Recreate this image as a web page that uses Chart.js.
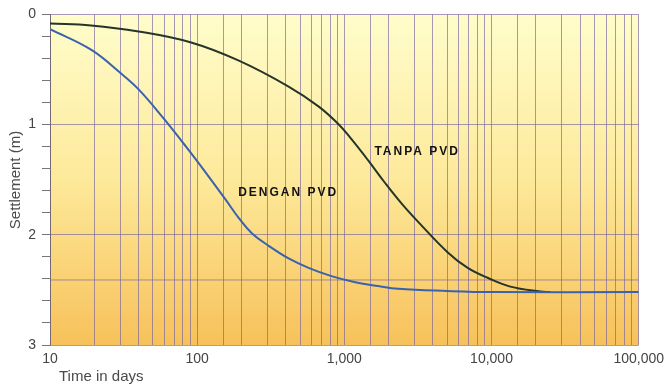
<!DOCTYPE html>
<html>
<head>
<meta charset="utf-8">
<script src="https://cdn.jsdelivr.net/npm/chart.js@4"></script>
<style>
    body { margin: 0; background: #fff; }
</style>
</head>
<body>
<canvas id="myChart" width="670" height="387"></canvas>
<script>
// data (time in days, settlement in m)
const tanpaDays = [10, 19, 40, 91, 192, 418, 667, 910, 1114, 1452, 1892, 2427, 3162, 5045, 6890, 9400, 13430, 21400, 25000];
const tanpaSettle = [0.083, 0.10, 0.155, 0.255, 0.42, 0.655, 0.835, 0.995, 1.13, 1.325, 1.53, 1.71, 1.88, 2.16, 2.30, 2.39, 2.47, 2.515, 2.52];

const denganDays = [10, 19, 30, 40, 58, 84, 115, 157, 192, 235, 306, 418, 571, 817, 1186, 1698, 2320, 5000, 10000, 100000];
const denganSettle = [0.134, 0.32, 0.53, 0.68, 0.93, 1.20, 1.44, 1.686, 1.849, 1.985, 2.10, 2.215, 2.30, 2.375, 2.43, 2.465, 2.49, 2.51, 2.52, 2.52];

// extra horizontal reference line
const refLine = 2.41;

// curve labels, placed in data coordinates
const labelText = ['TANPA PVD', 'DENGAN PVD'];
const labelDays = [1600, 190];
const labelSettle = [1.25, 1.62];

const xTicks = [10, 100, 1000, 10000, 100000];
const gridCol = 'rgba(118,100,160,0.65)';

function toPoints(xs, ys) {
    var pts = [];
    for (var i = 0; i < xs.length; i++) {
        pts.push({ x: xs[i], y: ys[i] });
    }
    return pts;
}

const bgPlugin = {
    id: 'bg',
    beforeDraw(chart) {
        var ctx = chart.ctx;
        var a = chart.chartArea;
        var g = ctx.createLinearGradient(0, a.top, 0, a.bottom);
        g.addColorStop(0, '#fffdcc');
        g.addColorStop(0.5, '#fde99a');
        g.addColorStop(1, '#f7c15a');
        ctx.save();
        ctx.fillStyle = g;
        ctx.fillRect(a.left, a.top, a.right - a.left, a.bottom - a.top);
        ctx.restore();
    }
};

const textPlugin = {
    id: 'texts',
    afterDatasetsDraw(chart) {
        var ctx = chart.ctx;
        var xs = chart.scales.x;
        var ys = chart.scales.y;
        ctx.save();
        ctx.fillStyle = '#111';
        ctx.font = 'bold 12px "Liberation Sans", Arial, sans-serif';
        ctx.letterSpacing = '2px';
        ctx.textBaseline = 'middle';
        ctx.textAlign = 'left';
        for (var i = 0; i < labelText.length; i++) {
            ctx.fillText(labelText[i], xs.getPixelForValue(labelDays[i]), ys.getPixelForValue(labelSettle[i]));
        }
        ctx.letterSpacing = '0px';
        // axis titles
        ctx.fillStyle = '#4a4a4a';
        ctx.font = '15px "Liberation Sans", Arial, sans-serif';
        ctx.textBaseline = 'alphabetic';
        ctx.fillText('Time in days', 59, 381);
        ctx.translate(20, 180);
        ctx.rotate(-Math.PI / 2);
        ctx.textAlign = 'center';
        ctx.fillText('Settlement (m)', 0, 0);
        ctx.restore();
    }
};

const data = {
    datasets: [{
        label: 'DENGAN PVD',
        data: toPoints(denganDays, denganSettle),
        borderColor: '#3a62ad',
        borderWidth: 2,
        pointRadius: 0,
        tension: 0.4
    }, {
        label: 'TANPA PVD',
        data: toPoints(tanpaDays, tanpaSettle),
        borderColor: '#253529',
        borderWidth: 2,
        pointRadius: 0,
        tension: 0.4
    }, {
        label: 'ref',
        data: [{ x: 10, y: refLine }, { x: 100000, y: refLine }],
        borderColor: gridCol,
        borderWidth: 1,
        pointRadius: 0
    }]
};

const config = {
    type: 'line',
    data,
    options: {
        responsive: false,
        animation: false,
        layout: { padding: { top: 13, right: 27, left: 0, bottom: 0 } },
        plugins: {
            legend: { display: false },
            tooltip: { enabled: false }
        },
        scales: {
            x: {
                type: 'logarithmic',
                min: 10,
                max: 100000,
                afterFit(s) { s.height = 42; },
                grid: {
                    color: gridCol,
                    drawTicks: false
                },
                border: { display: false },
                ticks: {
                    autoSkip: false,
                    maxRotation: 0,
                    padding: 6,
                    color: '#444',
                    font: { size: 14, family: '"Liberation Sans", Arial, sans-serif' },
                    callback: function (v) {
                        return xTicks.indexOf(v) >= 0 ? v.toLocaleString('en-US') : '';
                    }
                }
            },
            y: {
                reverse: true,
                min: 0,
                max: 3,
                afterFit(s) { s.width = 50; },
                grid: {
                    color: function (c) {
                        var v = c.tick.value;
                        return Math.abs(v - Math.round(v)) < 1e-6 ? gridCol : 'transparent';
                    },
                    tickColor: 'rgba(110,100,110,0.9)',
                    tickLength: 8
                },
                border: { color: 'rgba(110,100,110,0.9)' },
                ticks: {
                    stepSize: 0.2,
                    autoSkip: false,
                    padding: 6,
                    color: '#444',
                    font: { size: 14, family: '"Liberation Sans", Arial, sans-serif' },
                    callback: function (v) {
                        return Math.abs(v - Math.round(v)) < 1e-6 ? Math.round(v) : '';
                    }
                }
            }
        }
    },
    plugins: [bgPlugin, textPlugin]
};

const myChart = new Chart(document.getElementById('myChart').getContext('2d'), config);
</script>
</body>
</html>
